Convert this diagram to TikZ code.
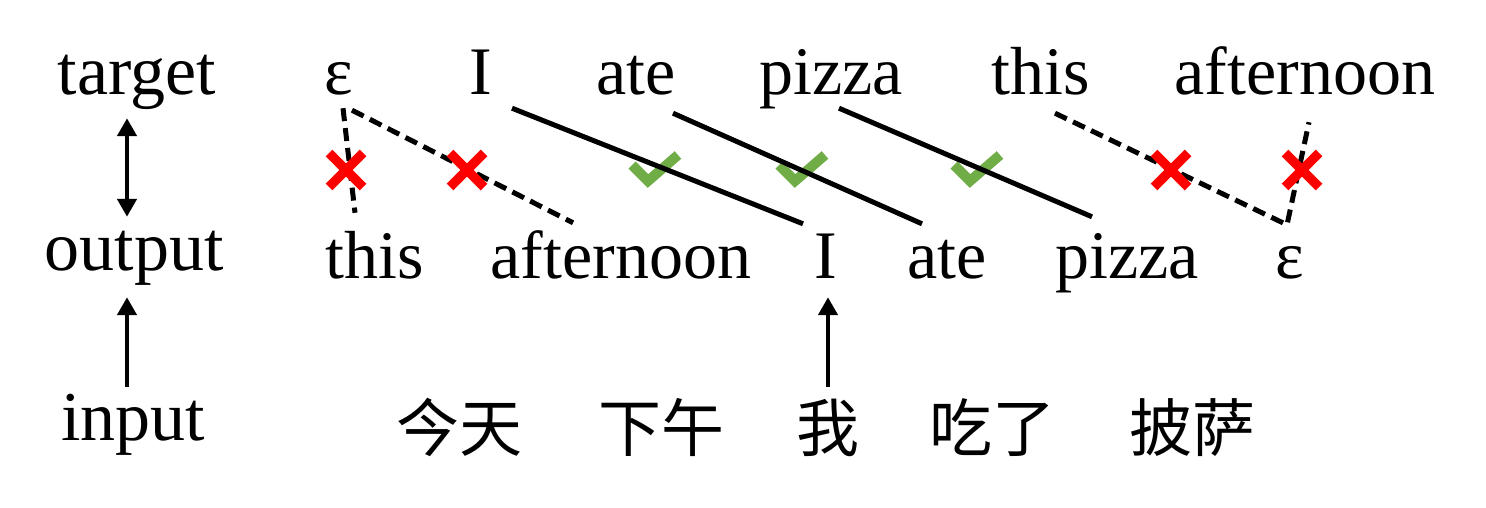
\documentclass[tikz,border=0pt]{standalone}
\usepackage{fontspec}
\setmainfont{Liberation Serif}
\newfontfamily\cjkfont{Noto Sans CJK SC}
\usetikzlibrary{arrows.meta,calc}
\definecolor{okgreen}{HTML}{70AD47}
\definecolor{badred}{HTML}{FF0000}

\begin{document}
\begin{tikzpicture}[x=1pt,y=-1pt,
    word/.style={inner sep=0pt, anchor=base, text height=50pt, text depth=14pt,
                 font=\fontsize{68pt}{80pt}\selectfont},
    rowlabel/.style={word, font=\fontsize{70pt}{80pt}\selectfont},
    hanzi/.style={inner sep=0pt, anchor=base, text height=52pt, text depth=8pt,
                  font=\cjkfont\fontsize{63pt}{72pt}\selectfont},
    link/.style={line width=5pt},
    wrong/.style={link, dash pattern=on 13pt off 7pt},
    arr/.style={line width=4.5pt, -{Triangle[length=18pt,width=19pt]}}]
            \useasboundingbox (0,0) rectangle (1486,508);

            % Row labels on the left
            \node[rowlabel] (tgt) at (137,95) {target};
            \node[rowlabel] (out) at (134,270) {output};
            \node[rowlabel] (inp) at (133,440) {input};

            % Target sentence
            \node[word] (tE) at (339,95) {ε};
            \node[word] (tI) at (481,95) {I};
            \node[word] (tAte) at (636,95) {ate};
            \node[word] (tPizza) at (831,95) {pizza};
            \node[word] (tThis) at (1041,95) {this};
            \node[word] (tAft) at (1305,95) {afternoon};

            % Output sentence
            \node[word] (bThis) at (375,278) {this};
            \node[word] (bAft) at (621,278) {afternoon};
            \node[word] (bI) at (826,278) {I};
            \node[word] (bAte) at (947,278) {ate};
            \node[word] (bPizza) at (1127,278) {pizza};
            \node[word] (bE) at (1290,278) {ε};

            % Input sentence
            \node[hanzi] (w1) at (459,451) {今天};
            \node[hanzi] (w2) at (661,451) {下午};
            \node[hanzi] (w3) at (828,451) {我};
            \node[hanzi] (w4) at (992,451) {吃了};
            \node[hanzi] (w5) at (1192,451) {披萨};

            % Arrows between the row labels
            \draw[arr, {Triangle[length=18pt,width=19pt]}-{Triangle[length=18pt,width=19pt]}]
                ([xshift=-10pt,yshift=-9pt]tgt.south) -- ([xshift=-7pt,yshift=3pt]out.north);
            \draw[arr] ([xshift=-6pt,yshift=3pt]inp.north) -- ([xshift=-7pt,yshift=-13pt]out.south);
            \draw[arr] ([yshift=12pt]w3.north) -- ([xshift=2pt,yshift=-5pt]bI.south);

            % Green ticks for matched words
            \foreach \x in {655,802,977} {
                \draw[okgreen, line width=10pt] (\x-23,165) -- (\x-7,181) -- (\x+23,155);
            }

            % Correct alignments
            \draw[link] ([xshift=31pt,yshift=1pt]tI.south) -- ([xshift=-23pt,yshift=4pt]bI.north);
            \draw[link] ([xshift=37pt,yshift=-4pt]tAte.south) -- ([xshift=-25pt,yshift=4pt]bAte.north);
            \draw[link] ([xshift=8pt,yshift=1pt]tPizza.south) -- ([xshift=-35pt,yshift=11pt]bPizza.north);

            % Wrong alignments
            \draw[wrong] ([xshift=4pt,yshift=1pt]tE.south) -- ([xshift=-20pt,yshift=15pt]bThis.north);
            \draw[wrong] ([xshift=13pt,yshift=-1pt]tE.south) -- ([xshift=-48pt,yshift=5pt]bAft.north);
            \draw[wrong] ([xshift=14pt,yshift=-4pt]tThis.south) -- ([xshift=-3pt,yshift=3pt]bE.north)
                -- ([xshift=4pt,yshift=-13pt]tAft.south);

            % Red crosses on the wrong ones
            \foreach \x in {346,467,1171,1302} {
                \draw[badred, line width=9.5pt] (\x-17,153) -- (\x+17,187);
                \draw[badred, line width=9.5pt] (\x-17,187) -- (\x+17,153);
            }
        \end{tikzpicture}
\end{document}
